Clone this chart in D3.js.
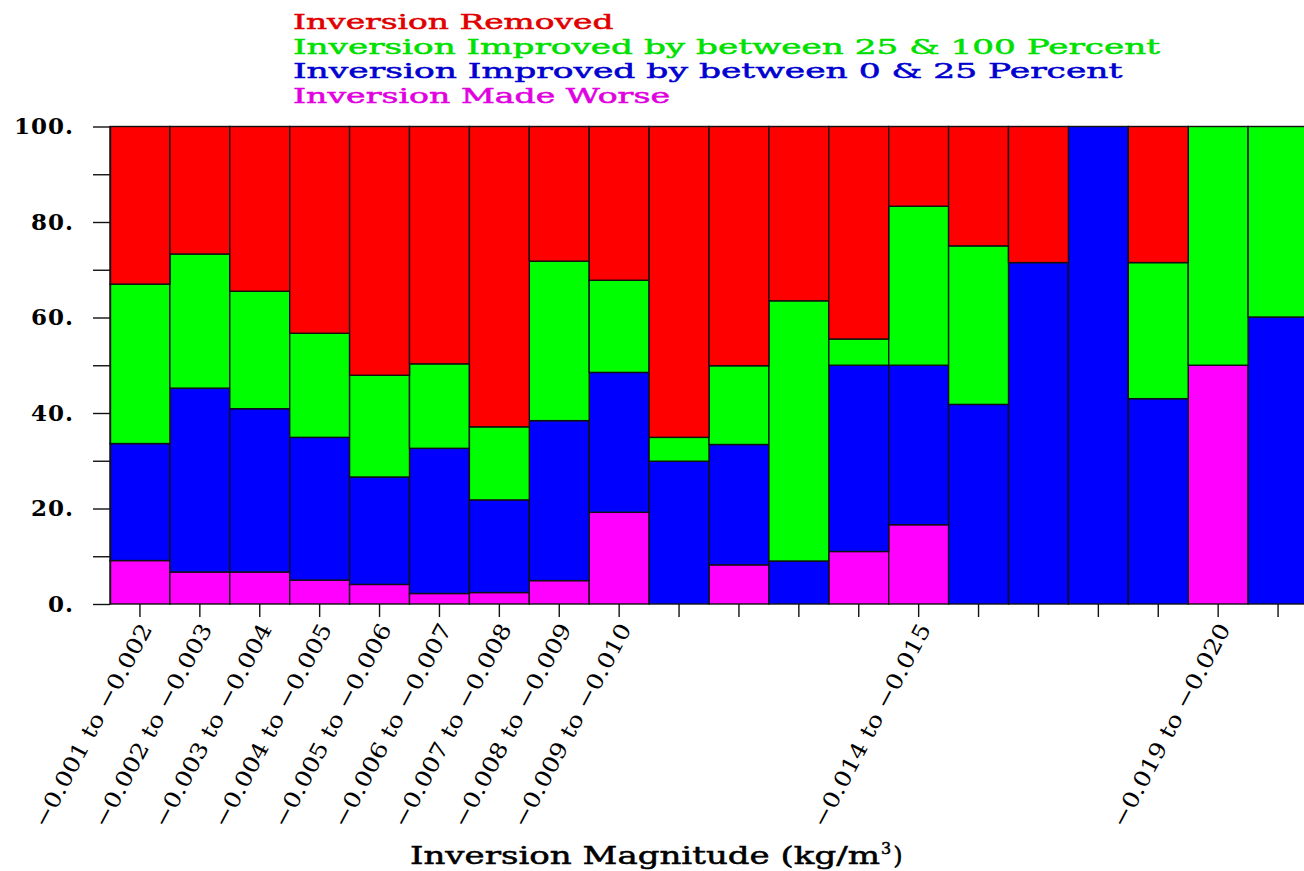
<!doctype html>
<html>
<head>
  <meta charset="utf-8">
  <script src="https://cdnjs.cloudflare.com/ajax/libs/d3/7.8.5/d3.min.js"></script>
  <style>
    body { margin: 0; background: #fff; }
    svg { display: block; }
    text { font-family: "DejaVu Serif", serif; }
  </style>
  <title>Inversion Magnitude</title>
</head>
<body>
<svg width="1304" height="871"></svg>
<script>
  // magnitude bins
  var categories = [
    "−0.001 to −0.002", "−0.002 to −0.003", "−0.003 to −0.004", "−0.004 to −0.005",
    "−0.005 to −0.006", "−0.006 to −0.007", "−0.007 to −0.008", "−0.008 to −0.009",
    "−0.009 to −0.010", "−0.010 to −0.011", "−0.011 to −0.012", "−0.012 to −0.013",
    "−0.013 to −0.014", "−0.014 to −0.015", "−0.015 to −0.016", "−0.016 to −0.017",
    "−0.017 to −0.018", "−0.018 to −0.019", "−0.019 to −0.020", "−0.020 to −0.021"
  ];
  // only these bins get a label on the axis
  var labelled = [0, 1, 2, 3, 4, 5, 6, 7, 8, 13, 18];

  // percent of cases, per bin (stacked bottom to top: worse, 0-25, 25-100, removed)
  var madeWorse   = [9.1, 6.7, 6.7, 5.0, 4.1, 2.2, 2.4, 4.9, 19.2, 0, 8.2, 0, 11.0, 16.6, 0, 0, 0, 0, 50, 0];
  var improved0   = [24.5, 38.5, 34.2, 29.9, 22.5, 30.4, 19.4, 33.5, 29.3, 29.9, 25.2, 9.0, 39.0, 33.4, 41.8, 71.5, 100, 43.0, 0, 60.1];
  var improved25  = [33.4, 28.1, 24.6, 21.8, 21.3, 17.7, 15.3, 33.4, 19.3, 5.0, 16.5, 54.5, 5.5, 33.3, 33.2, 0, 0, 28.5, 50, 39.9];
  var removed     = [33.0, 26.7, 34.5, 43.3, 52.1, 49.7, 62.9, 28.2, 32.2, 65.1, 50.1, 36.5, 44.5, 16.7, 25.0, 28.5, 0, 28.5, 0, 0];

  var yTicks = [0, 10, 20, 30, 40, 50, 60, 70, 80, 90, 100];

  var legendItems = [
    { name: "Inversion Removed", color: "#e00000" },
    { name: "Inversion Improved by between 25 & 100 Percent", color: "#00e000" },
    { name: "Inversion Improved by between 0 & 25 Percent", color: "#0000d0" },
    { name: "Inversion Made Worse", color: "#e000e0" }
  ];

  var keys = ["worse", "imp0", "imp25", "removed"];
  var fills = { worse: "#ff00ff", imp0: "#0000ff", imp25: "#00ff00", removed: "#ff0000" };

  var rows = categories.map(function (c, i) {
    return { cat: c, worse: madeWorse[i], imp0: improved0[i], imp25: improved25[i], removed: removed[i] };
  });

  var svg = d3.select("svg");

  var x = d3.scaleBand()
    .domain(categories)
    .range([110, 1308])
    .padding(0);

  var y = d3.scaleLinear()
    .domain([0, 100])
    .range([604, 126.5]);

  var series = d3.stack().keys(keys)(rows);

  svg.append("g")
    .selectAll("g")
    .data(series)
    .enter()
    .append("g")
    .attr("fill", function (d) { return fills[d.key]; })
    .selectAll("rect")
    .data(function (d) { return d; })
    .enter()
    .filter(function (d) { return d[1] - d[0] > 0; })
    .append("rect")
    .attr("x", function (d) { return x(d.data.cat); })
    .attr("y", function (d) { return y(d[1]); })
    .attr("width", x.bandwidth())
    .attr("height", function (d) { return y(d[0]) - y(d[1]); })
    .attr("stroke", "#111")
    .attr("stroke-width", 1.4);

  // y axis
  var yAxis = svg.append("g")
    .attr("transform", "translate(110,0)")
    .call(d3.axisLeft(y)
      .tickValues(yTicks)
      .tickSize(17)
      .tickSizeOuter(0)
      .tickPadding(19)
      .tickFormat(function (d) { return d % 20 === 0 ? d + "." : ""; }));
  yAxis.select(".domain").attr("stroke", "#111").attr("stroke-width", 1.4);
  yAxis.selectAll("line").attr("stroke", "#111").attr("stroke-width", 1.4);
  yAxis.selectAll("text")
    .attr("fill", "#000")
    .style("font-size", "23px")
    .style("font-weight", "bold")
    .style("letter-spacing", "1px");

  // x axis
  var xAxis = svg.append("g")
    .attr("transform", "translate(0,604)")
    .call(d3.axisBottom(x)
      .tickSize(13)
      .tickSizeOuter(0)
      .tickFormat(function (d, i) { return labelled.indexOf(i) >= 0 ? d : ""; }));
  xAxis.select(".domain").remove();
  xAxis.selectAll("line").attr("stroke", "#111").attr("stroke-width", 1.4);
  xAxis.selectAll("text")
    .attr("fill", "#000")
    .style("font-size", "22px")
    .attr("text-anchor", "end")
    .attr("y", 0)
    .attr("dy", "0.35em")
    .attr("transform", "translate(6,21) rotate(-62)")
    .attr("textLength", function (d, i) { return labelled.indexOf(i) >= 0 ? d.length * 14.2 : null; })
    .attr("lengthAdjust", "spacingAndGlyphs");

  // legend / title lines
  svg.append("g")
    .selectAll("text")
    .data(legendItems)
    .enter()
    .append("text")
    .attr("x", 293)
    .attr("y", function (d, i) { return 29 + i * 24.6; })
    .attr("fill", function (d) { return d.color; })
    .style("font-size", "20.5px")
    .style("stroke", function (d) { return d.color; })
    .style("stroke-width", "0.5px")
    .attr("textLength", function (d) { return d.name.length * 18.85; })
    .attr("lengthAdjust", "spacingAndGlyphs")
    .text(function (d) { return d.name; });

  // x axis title
  var xt = svg.append("text")
    .attr("x", 410)
    .attr("y", 864)
    .attr("fill", "#000")
    .style("font-size", "24px")
    .style("stroke", "#000")
    .style("stroke-width", "0.5px");
  xt.append("tspan")
    .attr("textLength", 470)
    .attr("lengthAdjust", "spacingAndGlyphs")
    .text("Inversion Magnitude (kg/m");
  xt.append("tspan").attr("dx", 1).attr("dy", -10).style("font-size", "16px").text("3");
  xt.append("tspan").attr("dx", 2).attr("dy", 10).text(")");
</script>
</body>
</html>
